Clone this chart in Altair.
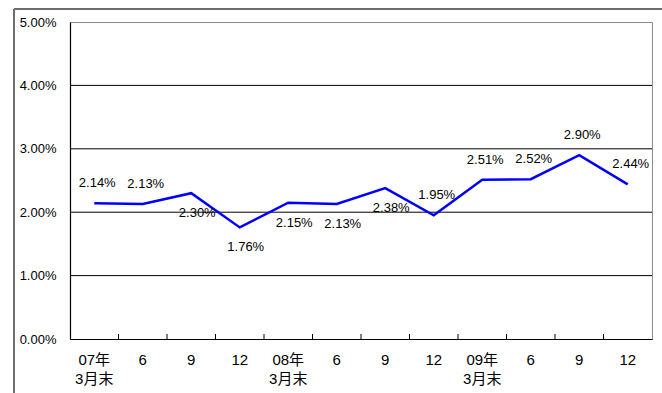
import json
import altair as alt
import pandas as pd

# ---- data ----
period_idx = list(range(12))
tick_labels = [["07年", "3月末"], "6", "9", "12",
               ["08年", "3月末"], "6", "9", "12",
               ["09年", "3月末"], "6", "9", "12"]
rates = [2.14, 2.13, 2.30, 1.76, 2.15, 2.13, 2.38, 1.95, 2.51, 2.52, 2.90, 2.44]
label_side = ["above", "above", "below", "below", "below", "below",
              "below", "above", "above", "above", "above", "above"]
y_tick_values = [0.0, 0.01, 0.02, 0.03, 0.04, 0.05]
grid_values = [0.01, 0.02, 0.03, 0.04]

FONT = "Liberation Sans, Noto Sans CJK JP"
W, H = 582, 317

df = pd.DataFrame({
    "i": period_idx,
    "rate": [r / 100 for r in rates],
    "side": label_side,
    "label": [f"{r:.2f}%" for r in rates],
})
ticks_df = pd.DataFrame({"i": period_idx[1:]})
grid_df = pd.DataFrame({"g": grid_values})

label_expr = json.dumps(tick_labels, ensure_ascii=False) + "[datum.value]"

x_scale = alt.Scale(type="band", paddingInner=0, paddingOuter=0, domain=period_idx)
x_axis = alt.Axis(title=None, ticks=False, labelExpr=label_expr, labelAngle=0,
                  labelPadding=13, labelLineHeight=19, labelFontSize=15,
                  labelFont=FONT, labelColor="#000", domainColor="#000",
                  domainWidth=1.2, grid=False)
y_scale = alt.Scale(domain=[0, 0.05], nice=False, zero=True)
y_axis = alt.Axis(title=None, values=y_tick_values, format=".2%", ticks=False,
                  grid=False, labelPadding=14, labelFontSize=13, labelFont=FONT,
                  labelColor="#000", domainColor="#000", domainWidth=1.2)

grid = alt.Chart(grid_df).mark_rule(color="#000", strokeWidth=1).encode(
    y=alt.Y("g:Q", scale=y_scale, axis=y_axis)
)

tick_rules = alt.Chart(ticks_df).mark_rule(color="#000", strokeWidth=1).encode(
    x=alt.X("i:O", scale=x_scale, axis=x_axis, bandPosition=0),
    y=alt.value(H - 5),
    y2=alt.value(H),
)

line = alt.Chart(df).mark_line(color="#0000FF", strokeWidth=2.5).encode(
    x=alt.X("i:O", scale=x_scale, axis=x_axis, bandPosition=0.5),
    y=alt.Y("rate:Q", scale=y_scale, axis=y_axis),
)

text_above = alt.Chart(df).transform_filter(alt.datum.side == "above").mark_text(
    fontSize=13, font=FONT, color="#000", dy=-20, dx=3
).encode(
    x=alt.X("i:O", scale=x_scale, axis=x_axis, bandPosition=0.5),
    y=alt.Y("rate:Q", scale=y_scale, axis=y_axis),
    text="label:N",
)

text_below = alt.Chart(df).transform_filter(alt.datum.side == "below").mark_text(
    fontSize=13, font=FONT, color="#000", dy=20, dx=6
).encode(
    x=alt.X("i:O", scale=x_scale, axis=x_axis, bandPosition=0.5),
    y=alt.Y("rate:Q", scale=y_scale, axis=y_axis),
    text="label:N",
)

frame_df = pd.DataFrame({"k": [0]})
frame_left = alt.Chart(frame_df).mark_rule(color="#6e6e6e", strokeWidth=2, clip=False).encode(
    x=alt.value(-56), y=alt.value(-13), y2=alt.value(H + 60)
)
frame_top = alt.Chart(frame_df).mark_rule(color="#6e6e6e", strokeWidth=2, clip=False).encode(
    x=alt.value(-56), x2=alt.value(W + 20), y=alt.value(-13)
)

chart = alt.layer(
    grid, tick_rules, line, text_above, text_below, frame_left, frame_top
).properties(
    width=W, height=H,
    autosize=alt.AutoSizeParams(type="none"),
    padding={"left": 70, "top": 22, "right": 10, "bottom": 54},
    background="white",
).configure_view(
    stroke="#8a8a8a", strokeWidth=1
)

chart.save("out.html", embed_options={"renderer": "svg", "actions": False})
